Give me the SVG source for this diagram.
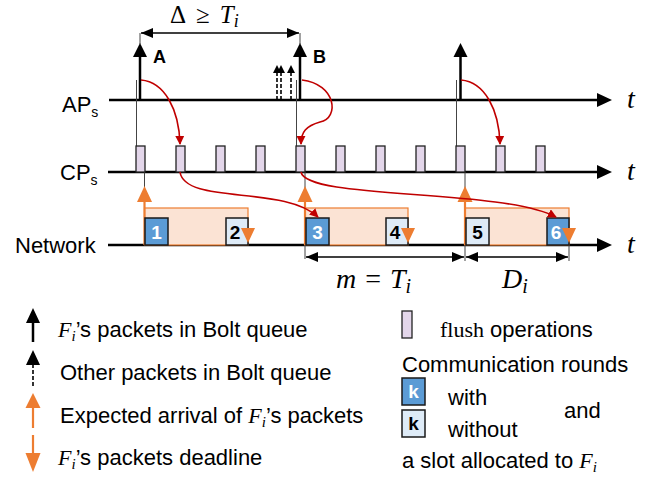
<svg xmlns="http://www.w3.org/2000/svg" width="665" height="478" viewBox="0 0 665 478">
<defs>
<marker id="red" viewBox="0 0 10 10" refX="9" refY="5" markerWidth="9" markerHeight="9" markerUnits="userSpaceOnUse" orient="auto"><path d="M0,0 L10,5 L0,10 z" fill="#c00000"/></marker>
<marker id="dim" viewBox="0 0 12 10" refX="12" refY="5" markerWidth="13" markerHeight="10" markerUnits="userSpaceOnUse" orient="auto-start-reverse"><path d="M0,0 L12,5 L0,10 z" fill="#000"/></marker>
</defs>
<style>
.ax{stroke:#000;stroke-width:2.5;fill:none}
.thin{stroke:#444;stroke-width:1;fill:none}
.blk{stroke:#000;stroke-width:2.5}
.dash{stroke:#000;stroke-width:1.6;stroke-dasharray:4,2}
.or{stroke:#ed7d31;stroke-width:2.2}
.orf{fill:#ed7d31}
.fl{fill:#e3d6ea;stroke:#222;stroke-width:1.3}
.shade{fill:#fbe3d4;stroke:#ed7d31;stroke-width:1.2}
.bx1{fill:#5b9bd5;stroke:#1a1a1a;stroke-width:1.5}
.bx2{fill:#deebf7;stroke:#1a1a1a;stroke-width:1.5}
.rc{stroke:#c00000;stroke-width:1.6;fill:none}
.lbl{font-family:"Liberation Sans",Arial,sans-serif;font-size:22px;fill:#000}
.num{font-family:"Liberation Sans",Arial,sans-serif;font-size:19px;font-weight:bold;text-anchor:middle}
.math{font-family:"Liberation Serif","Times New Roman",serif;font-style:italic;fill:#000}
.ser{font-family:"Liberation Serif","Times New Roman",serif;fill:#000}
</style>

<g id="axes">
<g id="ap-axis"><line class="ax" x1="109" y1="100" x2="598" y2="100"/><path d="M597,93 L612,100 L597,107 z"/>
<text class="lbl" x="62" y="112">AP<tspan font-size="14" dy="5">s</tspan></text>
<text class="math" x="627" y="108" font-size="28">t</text></g>
<g id="cp-axis"><line class="ax" x1="108" y1="172" x2="598" y2="172"/><path d="M597,165 L612,172 L597,179 z"/>
<text class="lbl" x="60" y="180">CP<tspan font-size="14" dy="5">s</tspan></text>
<text class="math" x="627" y="180" font-size="28">t</text></g>
<g id="net-axis"><line class="ax" x1="108" y1="245" x2="598" y2="245"/><path d="M597,238 L612,245 L597,252 z"/>
<text class="lbl" x="15" y="253">Network</text>
<text class="math" x="627" y="253" font-size="28">t</text></g>
</g>

<g id="guides">
<line class="thin" x1="136.5" y1="80" x2="136.5" y2="146"/>
<line class="thin" x1="296.5" y1="80" x2="296.5" y2="146"/>
<line class="thin" x1="456.5" y1="80" x2="456.5" y2="146"/>
<line class="thin" x1="144.5" y1="172" x2="144.5" y2="190"/>
<line class="thin" x1="305" y1="172" x2="305" y2="190"/>
<line class="thin" x1="465" y1="172" x2="465" y2="190"/>
<line class="thin" x1="140" y1="33" x2="140" y2="44"/>
<line class="thin" x1="300" y1="33" x2="300" y2="44"/>
<line class="thin" x1="305" y1="245" x2="305" y2="259"/>
<line class="thin" x1="465" y1="245" x2="465" y2="261"/>
<line class="thin" x1="569" y1="245" x2="569" y2="261"/>
</g>

<g id="packet-A"><line class="blk" x1="140" y1="100" x2="140" y2="55"/><path d="M133,57 L140,43 L147,57 z"/>
<text x="153" y="63" font-family="Liberation Sans,Arial,sans-serif" font-weight="bold" font-size="18">A</text></g>
<g id="packet-B"><line class="blk" x1="300" y1="100" x2="300" y2="55"/><path d="M293,57 L300,43 L307,57 z"/>
<text x="313" y="63" font-family="Liberation Sans,Arial,sans-serif" font-weight="bold" font-size="18">B</text></g>
<g id="packet-C"><line class="blk" x1="460.5" y1="100" x2="460.5" y2="55"/><path d="M453.5,57 L460.5,43 L467.5,57 z"/></g>
<g id="other-packets">
<line class="dash" x1="277" y1="100" x2="277" y2="72"/><path d="M273,73 L277,65 L281,73 z"/>
<line class="dash" x1="281" y1="100" x2="281" y2="72"/><path d="M277,73 L281,65 L285,73 z"/>
<line class="dash" x1="291" y1="100" x2="291" y2="72"/><path d="M287,73 L291,65 L295,73 z"/>
</g>

<g id="delta"><line x1="141" y1="33" x2="299" y2="33" stroke="#000" stroke-width="1.5" marker-start="url(#dim)" marker-end="url(#dim)"/>
<text x="170" y="23" font-size="25"><tspan class="ser">Δ</tspan><tspan class="ser" dx="10">≥</tspan><tspan class="math" dx="10">T</tspan><tspan class="math" font-size="18" dy="4">i</tspan></text></g>

<g id="flush">
<rect class="fl" x="136" y="146" width="9" height="26"/>
<rect class="fl" x="176" y="146" width="9" height="26"/>
<rect class="fl" x="216" y="146" width="9" height="26"/>
<rect class="fl" x="256" y="146" width="9" height="26"/>
<rect class="fl" x="296" y="146" width="9" height="26"/>
<rect class="fl" x="336" y="146" width="9" height="26"/>
<rect class="fl" x="376" y="146" width="9" height="26"/>
<rect class="fl" x="416" y="146" width="9" height="26"/>
<rect class="fl" x="456" y="146" width="9" height="26"/>
<rect class="fl" x="496" y="146" width="9" height="26"/>
<rect class="fl" x="536" y="146" width="9" height="26"/>
</g>

<g id="round1">
<rect class="shade" x="144.5" y="208" width="103.5" height="37"/>
<line class="or" x1="144.5" y1="200" x2="144.5" y2="245"/><path class="orf" d="M137,202 L144.5,186 L152,202 z"/>
<rect class="bx1" x="145" y="218" width="23" height="27"/><text class="num" x="156.5" y="239" fill="#fff">1</text>
<rect class="bx2" x="226" y="218" width="22" height="27"/><text class="num" x="235" y="239" fill="#000">2</text>
<path class="orf" d="M241,228 L255,228 L248,243 z"/>
</g>
<g id="round2">
<rect class="shade" x="305" y="208" width="103" height="37"/>
<line class="or" x1="305" y1="200" x2="305" y2="245"/><path class="orf" d="M297.5,202 L305,186 L312.5,202 z"/>
<rect class="bx1" x="306" y="218" width="23" height="27"/><text class="num" x="317.5" y="239" fill="#fff">3</text>
<rect class="bx2" x="386" y="218" width="22" height="27"/><text class="num" x="395" y="239" fill="#000">4</text>
<path class="orf" d="M401,228 L415,228 L408,243 z"/>
</g>
<g id="round3">
<rect class="shade" x="465" y="208" width="104" height="37"/>
<line class="or" x1="465" y1="200" x2="465" y2="245"/><path class="orf" d="M457.5,202 L465,186 L472.5,202 z"/>
<rect class="bx2" x="466" y="218" width="23" height="27"/><text class="num" x="477.5" y="239" fill="#000">5</text>
<rect class="bx1" x="547" y="218" width="22" height="27"/><text class="num" x="556" y="239" fill="#fff">6</text>
<path class="orf" d="M562,228 L576,228 L569,243 z"/>
</g>

<g id="connectors">
<path class="rc" d="M141,80 C165,82 179,110 180,144" marker-end="url(#red)"/>
<path class="rc" d="M302,80 C336,84 340,118 320,122 C306,126 301,132 301,144" marker-end="url(#red)"/>
<path class="rc" d="M461,80 C485,82 499,110 500,144" marker-end="url(#red)"/>
<path class="rc" d="M180,172 C185,205 285,185 318,217" marker-end="url(#red)"/>
<path class="rc" d="M301,172 C306,200 500,188 556,217" marker-end="url(#red)"/>
</g>

<g id="period">
<line x1="306" y1="257" x2="464" y2="257" stroke="#000" stroke-width="1.5" marker-start="url(#dim)" marker-end="url(#dim)"/>
<line x1="466" y1="257" x2="568" y2="257" stroke="#000" stroke-width="1.5" marker-start="url(#dim)" marker-end="url(#dim)"/>
<text x="336" y="288" font-size="28"><tspan class="math">m</tspan><tspan class="ser" dx="9">=</tspan><tspan class="math" dx="9">T</tspan><tspan class="math" font-size="20" dy="5">i</tspan></text>
<text x="502" y="288" font-size="28"><tspan class="math">D</tspan><tspan class="math" font-size="20" dy="5">i</tspan></text>
</g>

<g id="legend-left">
<line class="blk" x1="33" y1="321" x2="33" y2="342"/><path d="M26,323 L33,308 L40,323 z"/>
<text class="lbl" x="58" y="337"><tspan class="math">F</tspan><tspan class="math" font-size="15" dy="4">i</tspan><tspan dy="-4">’s packets in Bolt queue</tspan></text>
<line class="dash" x1="33" y1="364" x2="33" y2="387"/><path d="M26,365 L33,350 L40,365 z"/>
<text class="lbl" x="60" y="380">Other packets in Bolt queue</text>
<line class="or" x1="33" y1="406" x2="33" y2="428"/><path class="orf" d="M25.5,408 L33,393 L40.5,408 z"/>
<text class="lbl" x="60" y="423">Expected arrival of <tspan class="math">F</tspan><tspan class="math" font-size="15" dy="4">i</tspan><tspan dy="-4">’s packets</tspan></text>
<line class="or" x1="33" y1="435" x2="33" y2="455"/><path class="orf" d="M25.5,453 L40.5,453 L33,472 z"/>
<text class="lbl" x="58" y="465"><tspan class="math">F</tspan><tspan class="math" font-size="15" dy="4">i</tspan><tspan dy="-4">’s packets deadline</tspan></text>
</g>

<g id="legend-right">
<rect class="fl" x="402" y="311" width="10" height="27"/>
<text class="lbl" x="440" y="337"><tspan class="ser">flush</tspan> operations</text>
<text class="lbl" x="402" y="372">Communication rounds</text>
<rect class="bx1" x="402" y="378" width="23" height="27"/><text class="num" x="413.5" y="398" fill="#fff">k</text>
<text class="lbl" x="448" y="405">with</text>
<rect class="bx2" x="402" y="410" width="23" height="27"/><text class="num" x="413.5" y="430" fill="#000">k</text>
<text class="lbl" x="448" y="437">without</text>
<text class="lbl" x="564" y="418">and</text>
<text class="lbl" x="402" y="468">a slot allocated to <tspan class="math">F</tspan><tspan class="math" font-size="15" dy="4">i</tspan></text>
</g>
</svg>
